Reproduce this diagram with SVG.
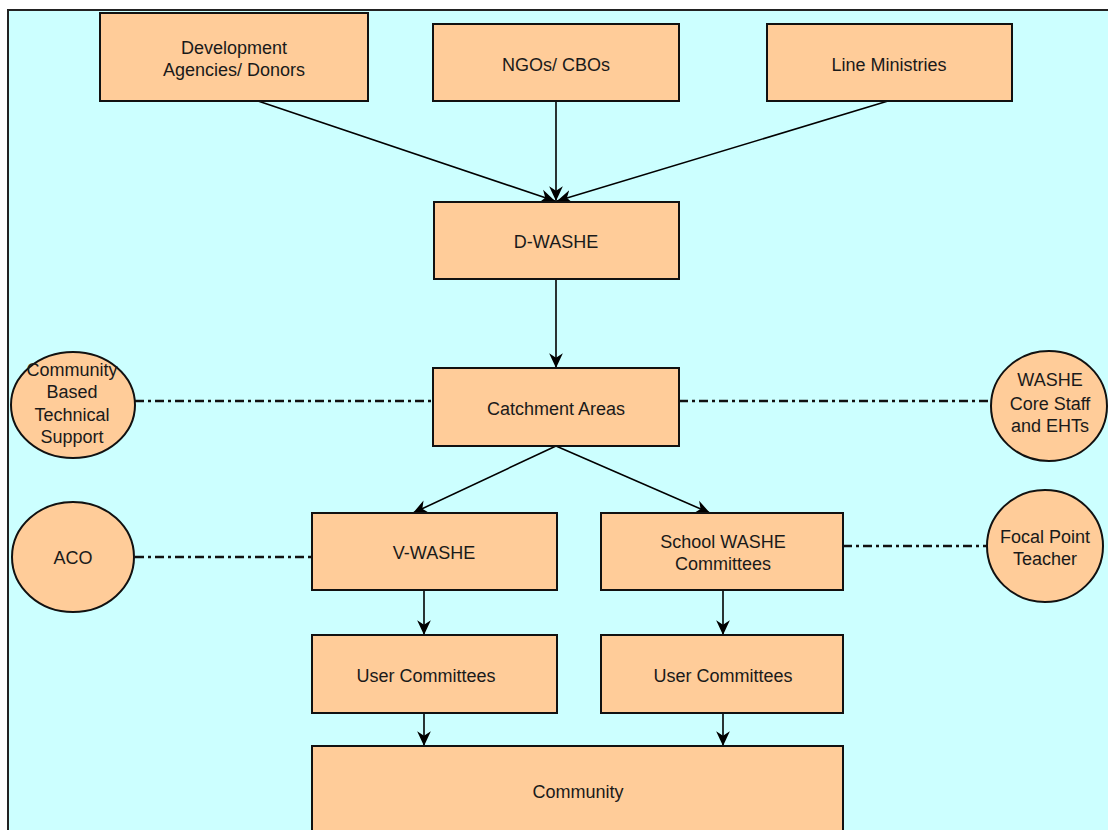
<svg xmlns="http://www.w3.org/2000/svg" width="1108" height="830" viewBox="0 0 1108 830">
<style>
.bg{fill:#CCFFFF;stroke:#222;stroke-width:2}
.box{fill:#FFCC99;stroke:#111;stroke-width:2}
.t{font-family:"Liberation Sans",Arial,sans-serif;font-size:18px;fill:#1a1a1a;text-anchor:middle}
.arr{stroke:#000;stroke-width:1.6;fill:none;marker-end:url(#ah)}
.dd{stroke:#111;stroke-width:2.6;fill:none;stroke-dasharray:9 4 3 4}
</style>
<defs>
<marker id="ah" markerUnits="userSpaceOnUse" markerWidth="16" markerHeight="16" viewBox="0 0 14 14" refX="13" refY="7" orient="auto">
<path d="M0,1 L13,7 L0,13 L4,7 z" fill="#000"/>
</marker>
</defs>
<rect class="bg" x="8" y="10" width="1112" height="832"/>
<g id="connectors">
<line class="arr" x1="258" y1="101" x2="555" y2="201"/>
<line class="arr" x1="556" y1="101" x2="556" y2="201"/>
<line class="arr" x1="888" y1="101" x2="557" y2="201"/>
<line class="arr" x1="556" y1="279" x2="556" y2="368"/>
<line class="arr" x1="556" y1="446" x2="413" y2="513"/>
<line class="arr" x1="556" y1="446" x2="710" y2="513"/>
<line class="arr" x1="424" y1="590" x2="424" y2="635"/>
<line class="arr" x1="723" y1="590" x2="723" y2="635"/>
<line class="arr" x1="424" y1="713" x2="424" y2="746"/>
<line class="arr" x1="723" y1="713" x2="723" y2="746"/>
<line class="dd" x1="135" y1="401" x2="433" y2="401"/>
<line class="dd" x1="679" y1="401" x2="992" y2="401"/>
<line class="dd" x1="135" y1="557" x2="312" y2="557"/>
<line class="dd" x1="843" y1="546" x2="987" y2="546"/>
</g>
<g id="dev"><rect class="box" x="100" y="13" width="268" height="88"/><text class="t" x="234" y="54">Development</text><text class="t" x="234" y="76">Agencies/ Donors</text></g>
<g id="ngos"><rect class="box" x="433" y="24" width="246" height="77"/><text class="t" x="556" y="71">NGOs/ CBOs</text></g>
<g id="line-ministries"><rect class="box" x="767" y="24" width="245" height="77"/><text class="t" x="889" y="71">Line Ministries</text></g>
<g id="dwashe"><rect class="box" x="434" y="202" width="245" height="77"/><text class="t" x="556" y="248">D-WASHE</text></g>
<g id="catchment"><rect class="box" x="433" y="368" width="246" height="78"/><text class="t" x="556" y="415">Catchment Areas</text></g>
<g id="vwashe"><rect class="box" x="312" y="513" width="245" height="77"/><text class="t" x="434" y="559">V-WASHE</text></g>
<g id="school"><rect class="box" x="601" y="513" width="242" height="77"/><text class="t" x="723" y="548">School WASHE</text><text class="t" x="723" y="570">Committees</text></g>
<g id="uc-left"><rect class="box" x="312" y="635" width="245" height="78"/><text class="t" x="426" y="682">User Committees</text></g>
<g id="uc-right"><rect class="box" x="601" y="635" width="242" height="78"/><text class="t" x="723" y="682">User Committees</text></g>
<g id="community"><rect class="box" x="312" y="746" width="531" height="100"/><text class="t" x="578" y="798">Community</text></g>
<g id="cbts"><ellipse class="box" cx="73" cy="405" rx="62" ry="53"/><text class="t" x="72" y="376">Community</text><text class="t" x="72" y="398">Based</text><text class="t" x="72" y="421">Technical</text><text class="t" x="72" y="443">Support</text></g>
<g id="washe-core"><ellipse class="box" cx="1049" cy="406" rx="58" ry="55"/><text class="t" x="1050" y="386">WASHE</text><text class="t" x="1050" y="410">Core Staff</text><text class="t" x="1050" y="432">and EHTs</text></g>
<g id="aco"><ellipse class="box" cx="73" cy="557" rx="61" ry="55"/><text class="t" x="73" y="564">ACO</text></g>
<g id="focal"><ellipse class="box" cx="1045" cy="546" rx="58" ry="56"/><text class="t" x="1045" y="543">Focal Point</text><text class="t" x="1045" y="565">Teacher</text></g>
</svg>
